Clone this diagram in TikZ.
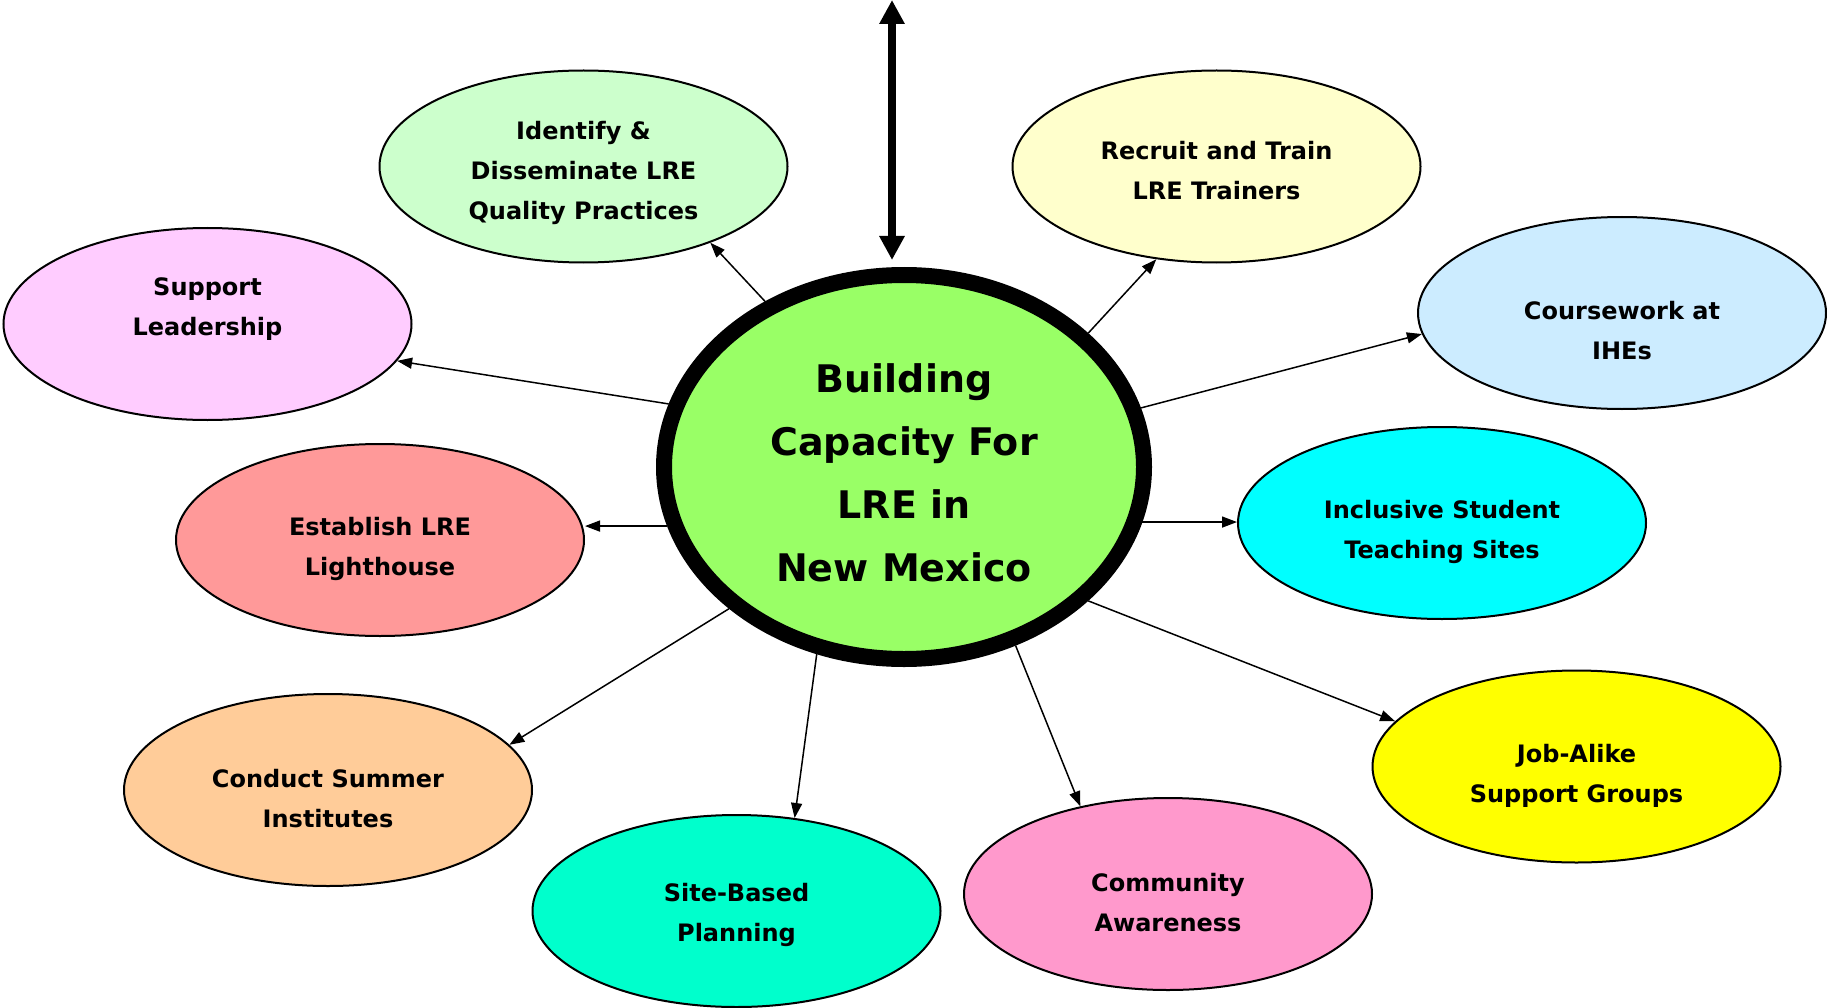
\documentclass[tikz,border=0pt]{standalone}
\usepackage{fontspec}
\setmainfont{DejaVu Sans}
\usetikzlibrary{arrows.meta,shapes.geometric}
\definecolor{cgreen}{RGB}{153,255,102}
\definecolor{cident}{RGB}{204,255,204}
\definecolor{csupp}{RGB}{255,204,255}
\definecolor{crecr}{RGB}{255,255,204}
\definecolor{ccour}{RGB}{204,236,255}
\definecolor{cincl}{RGB}{0,255,255}
\definecolor{cjob}{RGB}{255,255,0}
\definecolor{ccomm}{RGB}{255,153,204}
\definecolor{csite}{RGB}{0,255,204}
\definecolor{ccond}{RGB}{255,204,153}
\definecolor{cest}{RGB}{255,153,153}
\begin{document}
\begin{tikzpicture}[x=1pt,y=-1pt,
  bub/.style={ellipse, draw=black, line width=2pt, minimum width=408pt, minimum height=192pt, inner sep=0pt},
  txt/.style={align=center, inner sep=0pt, font=\bfseries\fontsize{24pt}{40pt}\selectfont},
  hub/.style={ellipse, draw=black, line width=16pt, fill=cgreen, minimum width=480pt, minimum height=384pt, inner sep=0pt},
  hubtxt/.style={align=center, inner sep=0pt, font=\bfseries\fontsize{38pt}{63pt}\selectfont},
  con/.style={line width=1.5pt, -{Triangle[length=15pt,width=11pt]}},
  bigarrow/.style={line width=8pt, {Triangle[length=24pt,width=24pt]}-{Triangle[length=24pt,width=24pt]}},
]
\useasboundingbox (0,0) rectangle (1827,1008);

% hub
\node[hub] (c) at (904,467) {};
\node[hubtxt] (ct) at ([yshift=-6pt]c.center) {Building\\Capacity For\\LRE in\\New Mexico};

% satellites
\node[bub, fill=cident] (id) at (583.5,166.5) {};
\node[txt] (idt) at ([yshift=-6pt]id.center) {Identify \&\\Disseminate LRE\\Quality Practices};

\node[bub, fill=csupp] (sup) at (207.5,324) {};
\node[txt] (supt) at ([yshift=14.5pt]sup.center) {Support\\Leadership};

\node[bub, fill=crecr] (rec) at (1216.5,166.5) {};
\node[txt] (rect) at ([yshift=-4.5pt]rec.center) {Recruit and Train\\LRE Trainers};

\node[bub, fill=ccour] (cou) at (1622,313) {};
\node[txt] (cout) at ([yshift=-18pt]cou.center) {Coursework at\\IHEs};

\node[bub, fill=cincl] (inc) at (1442,523) {};
\node[txt] (inct) at ([yshift=-8.5pt]inc.center) {Inclusive Student\\Teaching Sites};

\node[bub, fill=cjob] (job) at (1576.5,766.5) {};
\node[txt] (jobt) at ([yshift=-9pt]job.center) {Job-Alike\\Support Groups};

\node[bub, fill=ccomm] (com) at (1168,894) {};
\node[txt] (comt) at ([yshift=-8.5pt]com.center) {Community\\Awareness};

\node[bub, fill=csite] (site) at (736.5,911) {};
\node[txt] (sitet) at ([yshift=-3.5pt]site.center) {Site-Based\\Planning};

\node[bub, fill=ccond] (cond) at (328,790) {};
\node[txt] (condt) at ([yshift=-9pt]cond.center) {Conduct Summer\\Institutes};

\node[bub, fill=cest] (est) at (380,540) {};
\node[txt] (estt) at ([yshift=-8.5pt]est.center) {Establish LRE\\Lighthouse};

% connectors
\draw[con] (c.130.3) -- (id.-31.6);
\draw[con] (c.165.85) -- (sup.-11);
\draw[con] (c.194.15) -- (c.194.15 -| est.east);
\draw[con] (c.219.2) -- (cond.14.7);
\draw[con] (c.245.4) -- (site.58.3);
\draw[con] (c.-58.7) -- (com.135.3);
\draw[con] (c.-36.4) -- (job.166.1);
\draw[con] (c.-13.5) -- (c.-13.5 -| inc.west);
\draw[con] (c.14.9) -- (cou.186.2);
\draw[con] (c.36.6) -- (rec.237.5);

% top double arrow
\coordinate (topend) at (892,0);
\draw[bigarrow] (topend) -- ([xshift=-12pt,yshift=7pt]c.north);
\end{tikzpicture}
\end{document}
